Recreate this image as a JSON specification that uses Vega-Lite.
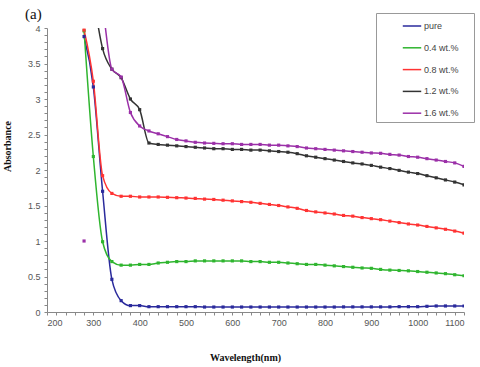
{
  "$schema": "https://vega.github.io/schema/vega-lite/v6.json",
  "autosize": {"type": "none"},
  "padding": {"left": 47, "top": 28, "right": 16, "bottom": 55},
  "width": 417,
  "height": 284,
  "background": "white",
  "title": {"text": "(a)", "anchor": "start", "frame": "group", "dx": -22, "dy": 31, "offset": 10, "baseline": "alphabetic", "font": "Liberation Serif", "fontSize": 15, "fontWeight": "normal", "color": "#111"},
  "config": {"view": {"stroke": null}},
  "data": {"values": [
    {"w":280,"a":3.88,"s":"pure","g":"a"},{"w":300,"a":3.17,"s":"pure","g":"a"},{"w":320,"a":1.70,"s":"pure","g":"a"},{"w":340,"a":0.46,"s":"pure","g":"a"},{"w":360,"a":0.16,"s":"pure","g":"a"},{"w":380,"a":0.09,"s":"pure","g":"a"},{"w":400,"a":0.09,"s":"pure","g":"a"},{"w":420,"a":0.075,"s":"pure","g":"a"},{"w":440,"a":0.075,"s":"pure","g":"a"},{"w":460,"a":0.075,"s":"pure","g":"a"},{"w":480,"a":0.075,"s":"pure","g":"a"},{"w":500,"a":0.075,"s":"pure","g":"a"},{"w":520,"a":0.075,"s":"pure","g":"a"},{"w":540,"a":0.07,"s":"pure","g":"a"},{"w":560,"a":0.07,"s":"pure","g":"a"},{"w":580,"a":0.07,"s":"pure","g":"a"},{"w":600,"a":0.07,"s":"pure","g":"a"},{"w":620,"a":0.07,"s":"pure","g":"a"},{"w":640,"a":0.07,"s":"pure","g":"a"},{"w":660,"a":0.07,"s":"pure","g":"a"},{"w":680,"a":0.07,"s":"pure","g":"a"},{"w":700,"a":0.07,"s":"pure","g":"a"},{"w":720,"a":0.07,"s":"pure","g":"a"},{"w":740,"a":0.07,"s":"pure","g":"a"},{"w":760,"a":0.07,"s":"pure","g":"a"},{"w":780,"a":0.07,"s":"pure","g":"a"},{"w":800,"a":0.07,"s":"pure","g":"a"},{"w":820,"a":0.07,"s":"pure","g":"a"},{"w":840,"a":0.072,"s":"pure","g":"a"},{"w":860,"a":0.072,"s":"pure","g":"a"},{"w":880,"a":0.072,"s":"pure","g":"a"},{"w":900,"a":0.072,"s":"pure","g":"a"},{"w":920,"a":0.072,"s":"pure","g":"a"},{"w":940,"a":0.072,"s":"pure","g":"a"},{"w":960,"a":0.075,"s":"pure","g":"a"},{"w":980,"a":0.075,"s":"pure","g":"a"},{"w":1000,"a":0.075,"s":"pure","g":"a"},{"w":1020,"a":0.08,"s":"pure","g":"a"},{"w":1040,"a":0.085,"s":"pure","g":"a"},{"w":1060,"a":0.085,"s":"pure","g":"a"},{"w":1080,"a":0.085,"s":"pure","g":"a"},{"w":1100,"a":0.085,"s":"pure","g":"a"},
    {"w":280,"a":3.96,"s":"0.4 wt.%","g":"a"},{"w":300,"a":2.19,"s":"0.4 wt.%","g":"a"},{"w":320,"a":0.99,"s":"0.4 wt.%","g":"a"},{"w":340,"a":0.71,"s":"0.4 wt.%","g":"a"},{"w":360,"a":0.66,"s":"0.4 wt.%","g":"a"},{"w":380,"a":0.66,"s":"0.4 wt.%","g":"a"},{"w":400,"a":0.67,"s":"0.4 wt.%","g":"a"},{"w":420,"a":0.67,"s":"0.4 wt.%","g":"a"},{"w":440,"a":0.69,"s":"0.4 wt.%","g":"a"},{"w":460,"a":0.70,"s":"0.4 wt.%","g":"a"},{"w":480,"a":0.71,"s":"0.4 wt.%","g":"a"},{"w":500,"a":0.71,"s":"0.4 wt.%","g":"a"},{"w":520,"a":0.72,"s":"0.4 wt.%","g":"a"},{"w":540,"a":0.72,"s":"0.4 wt.%","g":"a"},{"w":560,"a":0.72,"s":"0.4 wt.%","g":"a"},{"w":580,"a":0.72,"s":"0.4 wt.%","g":"a"},{"w":600,"a":0.72,"s":"0.4 wt.%","g":"a"},{"w":620,"a":0.72,"s":"0.4 wt.%","g":"a"},{"w":640,"a":0.71,"s":"0.4 wt.%","g":"a"},{"w":660,"a":0.71,"s":"0.4 wt.%","g":"a"},{"w":680,"a":0.70,"s":"0.4 wt.%","g":"a"},{"w":700,"a":0.70,"s":"0.4 wt.%","g":"a"},{"w":720,"a":0.69,"s":"0.4 wt.%","g":"a"},{"w":740,"a":0.68,"s":"0.4 wt.%","g":"a"},{"w":760,"a":0.67,"s":"0.4 wt.%","g":"a"},{"w":780,"a":0.67,"s":"0.4 wt.%","g":"a"},{"w":800,"a":0.66,"s":"0.4 wt.%","g":"a"},{"w":820,"a":0.65,"s":"0.4 wt.%","g":"a"},{"w":840,"a":0.64,"s":"0.4 wt.%","g":"a"},{"w":860,"a":0.63,"s":"0.4 wt.%","g":"a"},{"w":880,"a":0.62,"s":"0.4 wt.%","g":"a"},{"w":900,"a":0.615,"s":"0.4 wt.%","g":"a"},{"w":920,"a":0.60,"s":"0.4 wt.%","g":"a"},{"w":940,"a":0.59,"s":"0.4 wt.%","g":"a"},{"w":960,"a":0.585,"s":"0.4 wt.%","g":"a"},{"w":980,"a":0.58,"s":"0.4 wt.%","g":"a"},{"w":1000,"a":0.57,"s":"0.4 wt.%","g":"a"},{"w":1020,"a":0.56,"s":"0.4 wt.%","g":"a"},{"w":1040,"a":0.55,"s":"0.4 wt.%","g":"a"},{"w":1060,"a":0.54,"s":"0.4 wt.%","g":"a"},{"w":1080,"a":0.525,"s":"0.4 wt.%","g":"a"},{"w":1100,"a":0.51,"s":"0.4 wt.%","g":"a"},
    {"w":280,"a":3.97,"s":"0.8 wt.%","g":"a"},{"w":300,"a":3.25,"s":"0.8 wt.%","g":"a"},{"w":320,"a":1.92,"s":"0.8 wt.%","g":"a"},{"w":340,"a":1.67,"s":"0.8 wt.%","g":"a"},{"w":360,"a":1.63,"s":"0.8 wt.%","g":"a"},{"w":380,"a":1.63,"s":"0.8 wt.%","g":"a"},{"w":400,"a":1.62,"s":"0.8 wt.%","g":"a"},{"w":420,"a":1.62,"s":"0.8 wt.%","g":"a"},{"w":440,"a":1.62,"s":"0.8 wt.%","g":"a"},{"w":460,"a":1.615,"s":"0.8 wt.%","g":"a"},{"w":480,"a":1.61,"s":"0.8 wt.%","g":"a"},{"w":500,"a":1.605,"s":"0.8 wt.%","g":"a"},{"w":520,"a":1.60,"s":"0.8 wt.%","g":"a"},{"w":540,"a":1.59,"s":"0.8 wt.%","g":"a"},{"w":560,"a":1.585,"s":"0.8 wt.%","g":"a"},{"w":580,"a":1.575,"s":"0.8 wt.%","g":"a"},{"w":600,"a":1.565,"s":"0.8 wt.%","g":"a"},{"w":620,"a":1.555,"s":"0.8 wt.%","g":"a"},{"w":640,"a":1.545,"s":"0.8 wt.%","g":"a"},{"w":660,"a":1.53,"s":"0.8 wt.%","g":"a"},{"w":680,"a":1.515,"s":"0.8 wt.%","g":"a"},{"w":700,"a":1.50,"s":"0.8 wt.%","g":"a"},{"w":720,"a":1.48,"s":"0.8 wt.%","g":"a"},{"w":740,"a":1.46,"s":"0.8 wt.%","g":"a"},{"w":760,"a":1.43,"s":"0.8 wt.%","g":"a"},{"w":780,"a":1.41,"s":"0.8 wt.%","g":"a"},{"w":800,"a":1.395,"s":"0.8 wt.%","g":"a"},{"w":820,"a":1.38,"s":"0.8 wt.%","g":"a"},{"w":840,"a":1.36,"s":"0.8 wt.%","g":"a"},{"w":860,"a":1.35,"s":"0.8 wt.%","g":"a"},{"w":880,"a":1.33,"s":"0.8 wt.%","g":"a"},{"w":900,"a":1.315,"s":"0.8 wt.%","g":"a"},{"w":920,"a":1.30,"s":"0.8 wt.%","g":"a"},{"w":940,"a":1.28,"s":"0.8 wt.%","g":"a"},{"w":960,"a":1.26,"s":"0.8 wt.%","g":"a"},{"w":980,"a":1.24,"s":"0.8 wt.%","g":"a"},{"w":1000,"a":1.225,"s":"0.8 wt.%","g":"a"},{"w":1020,"a":1.205,"s":"0.8 wt.%","g":"a"},{"w":1040,"a":1.185,"s":"0.8 wt.%","g":"a"},{"w":1060,"a":1.165,"s":"0.8 wt.%","g":"a"},{"w":1080,"a":1.14,"s":"0.8 wt.%","g":"a"},{"w":1100,"a":1.11,"s":"0.8 wt.%","g":"a"},
    {"w":300,"a":4.45,"s":"1.2 wt.%","g":"a"},{"w":320,"a":3.71,"s":"1.2 wt.%","g":"a"},{"w":340,"a":3.42,"s":"1.2 wt.%","g":"a"},{"w":360,"a":3.30,"s":"1.2 wt.%","g":"a"},{"w":380,"a":3.00,"s":"1.2 wt.%","g":"a"},{"w":400,"a":2.85,"s":"1.2 wt.%","g":"a"},{"w":420,"a":2.38,"s":"1.2 wt.%","g":"a"},{"w":440,"a":2.36,"s":"1.2 wt.%","g":"a"},{"w":460,"a":2.35,"s":"1.2 wt.%","g":"a"},{"w":480,"a":2.34,"s":"1.2 wt.%","g":"a"},{"w":500,"a":2.33,"s":"1.2 wt.%","g":"a"},{"w":520,"a":2.32,"s":"1.2 wt.%","g":"a"},{"w":540,"a":2.31,"s":"1.2 wt.%","g":"a"},{"w":560,"a":2.30,"s":"1.2 wt.%","g":"a"},{"w":580,"a":2.30,"s":"1.2 wt.%","g":"a"},{"w":600,"a":2.29,"s":"1.2 wt.%","g":"a"},{"w":620,"a":2.29,"s":"1.2 wt.%","g":"a"},{"w":640,"a":2.28,"s":"1.2 wt.%","g":"a"},{"w":660,"a":2.28,"s":"1.2 wt.%","g":"a"},{"w":680,"a":2.27,"s":"1.2 wt.%","g":"a"},{"w":700,"a":2.26,"s":"1.2 wt.%","g":"a"},{"w":720,"a":2.25,"s":"1.2 wt.%","g":"a"},{"w":740,"a":2.23,"s":"1.2 wt.%","g":"a"},{"w":760,"a":2.20,"s":"1.2 wt.%","g":"a"},{"w":780,"a":2.18,"s":"1.2 wt.%","g":"a"},{"w":800,"a":2.16,"s":"1.2 wt.%","g":"a"},{"w":820,"a":2.14,"s":"1.2 wt.%","g":"a"},{"w":840,"a":2.12,"s":"1.2 wt.%","g":"a"},{"w":860,"a":2.10,"s":"1.2 wt.%","g":"a"},{"w":880,"a":2.085,"s":"1.2 wt.%","g":"a"},{"w":900,"a":2.065,"s":"1.2 wt.%","g":"a"},{"w":920,"a":2.04,"s":"1.2 wt.%","g":"a"},{"w":940,"a":2.02,"s":"1.2 wt.%","g":"a"},{"w":960,"a":1.995,"s":"1.2 wt.%","g":"a"},{"w":980,"a":1.97,"s":"1.2 wt.%","g":"a"},{"w":1000,"a":1.95,"s":"1.2 wt.%","g":"a"},{"w":1020,"a":1.92,"s":"1.2 wt.%","g":"a"},{"w":1040,"a":1.89,"s":"1.2 wt.%","g":"a"},{"w":1060,"a":1.86,"s":"1.2 wt.%","g":"a"},{"w":1080,"a":1.83,"s":"1.2 wt.%","g":"a"},{"w":1100,"a":1.79,"s":"1.2 wt.%","g":"a"},
    {"w":280,"a":1.00,"s":"1.6 wt.%","g":"b"},{"w":300,"a":5.0,"s":"1.6 wt.%","g":"a"},{"w":320,"a":4.3,"s":"1.6 wt.%","g":"a"},{"w":340,"a":3.42,"s":"1.6 wt.%","g":"a"},{"w":360,"a":3.31,"s":"1.6 wt.%","g":"a"},{"w":380,"a":2.81,"s":"1.6 wt.%","g":"a"},{"w":400,"a":2.62,"s":"1.6 wt.%","g":"a"},{"w":420,"a":2.55,"s":"1.6 wt.%","g":"a"},{"w":440,"a":2.51,"s":"1.6 wt.%","g":"a"},{"w":460,"a":2.47,"s":"1.6 wt.%","g":"a"},{"w":480,"a":2.43,"s":"1.6 wt.%","g":"a"},{"w":500,"a":2.41,"s":"1.6 wt.%","g":"a"},{"w":520,"a":2.39,"s":"1.6 wt.%","g":"a"},{"w":540,"a":2.38,"s":"1.6 wt.%","g":"a"},{"w":560,"a":2.375,"s":"1.6 wt.%","g":"a"},{"w":580,"a":2.37,"s":"1.6 wt.%","g":"a"},{"w":600,"a":2.37,"s":"1.6 wt.%","g":"a"},{"w":620,"a":2.36,"s":"1.6 wt.%","g":"a"},{"w":640,"a":2.36,"s":"1.6 wt.%","g":"a"},{"w":660,"a":2.36,"s":"1.6 wt.%","g":"a"},{"w":680,"a":2.35,"s":"1.6 wt.%","g":"a"},{"w":700,"a":2.35,"s":"1.6 wt.%","g":"a"},{"w":720,"a":2.34,"s":"1.6 wt.%","g":"a"},{"w":740,"a":2.33,"s":"1.6 wt.%","g":"a"},{"w":760,"a":2.31,"s":"1.6 wt.%","g":"a"},{"w":780,"a":2.30,"s":"1.6 wt.%","g":"a"},{"w":800,"a":2.29,"s":"1.6 wt.%","g":"a"},{"w":820,"a":2.28,"s":"1.6 wt.%","g":"a"},{"w":840,"a":2.27,"s":"1.6 wt.%","g":"a"},{"w":860,"a":2.26,"s":"1.6 wt.%","g":"a"},{"w":880,"a":2.25,"s":"1.6 wt.%","g":"a"},{"w":900,"a":2.24,"s":"1.6 wt.%","g":"a"},{"w":920,"a":2.235,"s":"1.6 wt.%","g":"a"},{"w":940,"a":2.22,"s":"1.6 wt.%","g":"a"},{"w":960,"a":2.21,"s":"1.6 wt.%","g":"a"},{"w":980,"a":2.19,"s":"1.6 wt.%","g":"a"},{"w":1000,"a":2.18,"s":"1.6 wt.%","g":"a"},{"w":1020,"a":2.16,"s":"1.6 wt.%","g":"a"},{"w":1040,"a":2.14,"s":"1.6 wt.%","g":"a"},{"w":1060,"a":2.12,"s":"1.6 wt.%","g":"a"},{"w":1080,"a":2.10,"s":"1.6 wt.%","g":"a"},{"w":1100,"a":2.05,"s":"1.6 wt.%","g":"a"}
  ]},
  "mark": {"type": "line", "interpolate": "monotone", "strokeWidth": 1.5, "clip": true, "point": {"shape": "square", "size": 10, "filled": true}},
  "encoding": {
    "x": {"field": "w", "type": "quantitative", "scale": {"domain": [200, 1100], "nice": false, "zero": false},
      "axis": {"title": "Wavelength(nm)", "values": [200,220,240,260,280,300,320,340,360,380,400,420,440,460,480,500,520,540,560,580,600,620,640,660,680,700,720,740,760,780,800,820,840,860,880,900,920,940,960,980,1000,1020,1040,1060,1080,1100],
        "labelExpr": "datum.value % 100 == 0 ? datum.label : ''", "format": "d", "grid": false,
        "domainColor": "#888", "tickColor": "#888", "tickSize": 3, "labelColor": "#555", "labelFont": "Liberation Sans", "labelFontSize": 9, "labelPadding": 3,
        "titleFont": "Liberation Serif", "titleFontWeight": "bold", "titleFontSize": 10, "titleColor": "#111", "titleX": 198, "titleY": 45, "titleBaseline": "middle", "titleAlign": "center"}},
    "y": {"field": "a", "type": "quantitative", "scale": {"domain": [0, 4], "nice": false},
      "axis": {"title": "Absorbance", "values": [0,0.1,0.2,0.3,0.4,0.5,0.6,0.7,0.8,0.9,1,1.1,1.2,1.3,1.4,1.5,1.6,1.7,1.8,1.9,2,2.1,2.2,2.3,2.4,2.5,2.6,2.7,2.8,2.9,3,3.1,3.2,3.3,3.4,3.5,3.6,3.7,3.8,3.9,4],
        "labelExpr": "round(datum.value * 10) % 5 == 0 ? format(datum.value, '~g') : ''", "grid": false,
        "domainColor": "#888", "tickColor": "#888", "tickSize": 3, "labelColor": "#555", "labelFont": "Liberation Sans", "labelFontSize": 9, "labelPadding": 4,
        "titleFont": "Liberation Serif", "titleFontWeight": "bold", "titleFontSize": 10, "titleColor": "#111", "titleX": -40, "titleY": 118, "titleAngle": 270, "titleBaseline": "middle", "titleAlign": "center"}},
    "color": {"field": "s", "type": "nominal",
      "scale": {"domain": ["pure", "0.4 wt.%", "0.8 wt.%", "1.2 wt.%", "1.6 wt.%"], "range": ["#2a2a9c", "#2fb52f", "#ff3333", "#333333", "#9b30a8"]},
      "legend": {"title": "\u00a0", "titleOrient": "right", "titlePadding": 12, "titleFontSize": 6, "orient": "none", "legendX": 329, "legendY": -15, "strokeColor": "#999", "fillColor": "white", "padding": 3, "symbolOffset": 23,
        "symbolType": "stroke", "symbolStrokeWidth": 1.5, "symbolSize": 340, "labelFont": "Liberation Sans", "labelFontSize": 9, "labelColor": "#444", "labelOffset": 2, "rowPadding": 6.8}},
    "detail": {"field": "g", "type": "nominal"},
    "order": {"field": "w", "type": "quantitative"}
  }
}
